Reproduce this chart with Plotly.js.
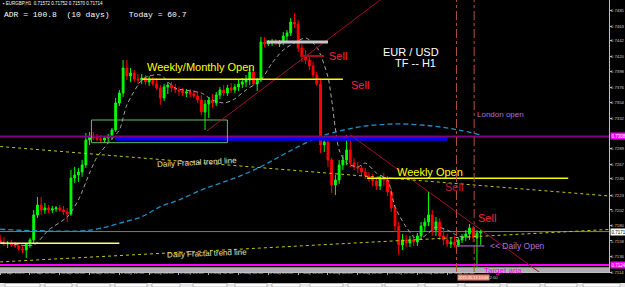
<!DOCTYPE html>
<html><head><meta charset="utf-8">
<script src="https://cdn.plot.ly/plotly-3.0.1.min.js"></script>
<style>html,body{margin:0;padding:0;background:#000;overflow:hidden}#chart{width:625px;height:287px}</style>
</head><body><div id="chart"></div>
<script>
const open = [0.71595,0.71566,0.71538,0.71552,0.71524,0.71510,0.71467,0.71453,0.71538,0.71595,
0.71950,0.72091,0.72020,0.72049,0.72020,0.72035,0.72049,0.72020,0.71992,0.71964,
0.72474,0.72517,0.72560,0.72659,0.73014,0.73070,0.73042,0.73028,0.73014,0.73042,
0.73070,0.73156,0.73539,0.73680,0.74035,0.73922,0.73964,0.73879,0.73865,0.73893,
0.73837,0.73865,0.73808,0.73751,0.73610,0.73766,0.73794,0.73751,0.73723,0.73709,
0.73680,0.73695,0.73666,0.73638,0.73581,0.73411,0.73524,0.73581,0.73539,0.73652,
0.73723,0.73680,0.73751,0.73723,0.73766,0.73808,0.73837,0.73865,0.73978,0.73808,
0.73865,0.74404,0.74376,0.74390,0.74404,0.74376,0.74404,0.74489,0.74532,0.74688,
0.74659,0.74319,0.74205,0.74149,0.74064,0.73936,0.73808,0.72943,0.72985,0.72730,
0.72375,0.72446,0.72659,0.72730,0.72872,0.72687,0.72631,0.72616,0.72560,0.72503,
0.72474,0.72432,0.72361,0.72474,0.72446,0.72276,0.72049,0.71793,0.71524,0.71595,
0.71552,0.71595,0.71566,0.71652,0.71793,0.71850,0.71950,0.71737,0.71850,0.71652,
0.71595,0.71538,0.71566,0.71524,0.71595,0.71637,0.71680,0.71765,0.71623,0.71694];
const high = [0.71666,0.71637,0.71581,0.71595,0.71566,0.71552,0.71524,0.71538,0.71623,0.72020,
0.72205,0.72205,0.72120,0.72091,0.72077,0.72077,0.72091,0.72077,0.72049,0.72588,
0.72631,0.72616,0.72730,0.73113,0.73127,0.73127,0.73099,0.73085,0.73070,0.73099,
0.73184,0.73610,0.73723,0.74149,0.74149,0.74035,0.74007,0.73950,0.73950,0.73936,
0.73922,0.73907,0.73893,0.73794,0.73808,0.73837,0.73837,0.73808,0.73766,0.73751,
0.73737,0.73737,0.73723,0.73695,0.73652,0.73581,0.73624,0.73666,0.73695,0.73766,
0.73794,0.73794,0.73822,0.73808,0.73865,0.73893,0.73936,0.74035,0.74064,0.73893,
0.74475,0.74475,0.74432,0.74447,0.74447,0.74432,0.74546,0.74574,0.74745,0.74816,
0.74716,0.74376,0.74291,0.74220,0.74120,0.73978,0.73865,0.73056,0.73042,0.72758,
0.72517,0.72730,0.72801,0.73085,0.73014,0.72758,0.72701,0.72659,0.72616,0.72560,
0.72531,0.72489,0.72503,0.72545,0.72503,0.72333,0.72091,0.71850,0.71680,0.71666,
0.71652,0.71666,0.71694,0.71850,0.71907,0.72276,0.72020,0.71921,0.71907,0.71765,
0.71680,0.71623,0.71652,0.71623,0.71680,0.71737,0.71822,0.71793,0.71737,0.71751];
const low = [0.71538,0.71510,0.71481,0.71495,0.71481,0.71439,0.71410,0.71339,0.71481,0.71552,
0.71907,0.71950,0.71964,0.71978,0.71978,0.71992,0.71992,0.71950,0.71850,0.71935,
0.72404,0.72418,0.72489,0.72616,0.72943,0.73014,0.72999,0.72971,0.72971,0.72985,
0.73014,0.73127,0.73496,0.73624,0.73865,0.73837,0.73837,0.73808,0.73808,0.73794,
0.73780,0.73780,0.73723,0.73510,0.73567,0.73666,0.73695,0.73680,0.73638,0.73638,
0.73624,0.73624,0.73610,0.73539,0.73368,0.73156,0.73326,0.73468,0.73496,0.73595,
0.73638,0.73638,0.73680,0.73680,0.73709,0.73751,0.73766,0.73794,0.73780,0.73709,
0.73837,0.74333,0.74347,0.74347,0.74362,0.74333,0.74362,0.74404,0.74489,0.74603,
0.74262,0.74120,0.74092,0.74007,0.73893,0.73780,0.72829,0.72843,0.72631,0.72262,
0.72233,0.72389,0.72588,0.72659,0.72631,0.72588,0.72545,0.72503,0.72460,0.72418,
0.72361,0.72304,0.72304,0.72361,0.72219,0.71992,0.71708,0.71382,0.71453,0.71495,
0.71495,0.71510,0.71510,0.71595,0.71708,0.71793,0.71652,0.71652,0.71595,0.71524,
0.71495,0.71481,0.71495,0.71495,0.71552,0.71581,0.71595,0.71566,0.71212,0.71524];
const close = [0.71566,0.71538,0.71552,0.71524,0.71510,0.71467,0.71453,0.71538,0.71595,0.71950,
0.72091,0.72020,0.72049,0.72020,0.72035,0.72049,0.72020,0.71992,0.71964,0.72474,
0.72517,0.72560,0.72659,0.73014,0.73070,0.73042,0.73028,0.73014,0.73042,0.73070,
0.73156,0.73539,0.73680,0.74035,0.73922,0.73964,0.73879,0.73865,0.73893,0.73837,
0.73865,0.73808,0.73751,0.73610,0.73766,0.73794,0.73751,0.73723,0.73709,0.73680,
0.73695,0.73666,0.73638,0.73581,0.73411,0.73524,0.73581,0.73539,0.73652,0.73723,
0.73680,0.73751,0.73723,0.73766,0.73808,0.73837,0.73865,0.73978,0.73808,0.73865,
0.74404,0.74376,0.74390,0.74404,0.74376,0.74404,0.74489,0.74532,0.74688,0.74659,
0.74319,0.74205,0.74149,0.74064,0.73936,0.73808,0.72943,0.72985,0.72730,0.72375,
0.72446,0.72659,0.72730,0.72872,0.72687,0.72631,0.72616,0.72560,0.72503,0.72474,
0.72432,0.72361,0.72474,0.72446,0.72276,0.72049,0.71793,0.71524,0.71595,0.71552,
0.71595,0.71566,0.71652,0.71793,0.71850,0.71950,0.71737,0.71850,0.71652,0.71595,
0.71538,0.71566,0.71524,0.71595,0.71637,0.71680,0.71765,0.71623,0.71694,0.71714];

// time axis (hours of trading since 28 Apr 20:00)
const tickHours = [0,16,32,48,64,80,96,112,128,144,160,176,192,208,224,240];
const tickLabels = ['28 Apr 2015','29 Apr 12:00','30 Apr 04:00','30 Apr 20:00','1 May 12:00','4 May 04:00','4 May 20:00','5 May 12:00','6 May 04:00','6 May 20:00','7 May 12:00','8 May 04:00','8 May 20:00','11 May 12:00','12 May 04:00','12 May 20:00'];
const priceTicks = [0.7485,0.7463,0.7442,0.7420,0.7398,0.7376,0.7354,0.7332,0.7289,0.7267,0.7246,0.7223,0.7202,0.7180,0.7158,0.7136,0.7114];

// moving averages
const slowMaHours = [0,18,46,54,64,76,86,96,108,118,128,140,150,160,170,178,196,214,232,246,258];
const slowMaPrices = [0.71747,0.71727,0.71727,0.71761,0.71832,0.71925,0.72067,0.72162,0.72304,0.72399,0.72493,0.72635,0.72777,0.72919,0.73042,0.73113,0.73212,0.73241,0.73212,0.73156,0.73085];
const fastMaHours = [0,18,26,36,42,48,52,58,64,68,76,80,86,94,108,114,120,125,132,140,146,152,158,164,170,176,178,182,186,192,196,202,208,212,218,224,230,234,240,246,252,258];
const fastMaPrices = [0.71566,0.71524,0.71737,0.71921,0.72162,0.72545,0.72772,0.72971,0.73156,0.73510,0.73865,0.73922,0.73936,0.73751,0.73680,0.73581,0.73539,0.73581,0.73723,0.73865,0.74106,0.74291,0.74390,0.74461,0.74333,0.73907,0.73581,0.72872,0.72687,0.72631,0.72687,0.72545,0.72446,0.72063,0.71779,0.71595,0.71694,0.71779,0.71737,0.71652,0.71637,0.71666];

// horizontal level segments: [fromHour, toHour, price]
const levelFrom  = [76, 197, 0, 143, 161, 245];
const levelTo    = [184, 305, 64, 176, 174, 260];
const levelPrice = [0.73875, 0.72470, 0.71548, 0.74404, 0.74205, 0.71510];
// trend lines
const trendStartHour  = [111, 188, 0, 0];
const trendStartPrice = [0.73142, 0.73085, 0.72921, 0.71283];
const trendEndHour    = [204, 290, 327, 327];
const trendEndPrice   = [0.75000, 0.71127, 0.72219, 0.71744];
// full width levels
const purpleLevel = 0.73063, targetLevel = 0.7124, bidLevel = 0.71714;
// zones [fromHour,toHour,lowPrice,highPrice]
const blueZone = [62, 240, 0.73004, 0.73063];
const greenBox = [49, 122, 0.72975, 0.73297];
// session lines (hours)
const sessionHours = [245, 254.5];

// ---- DRAWING ----
const hours = open.map((_, i) => i * 2);
const W = 609, H = 272;
const px = x => x / W, py = y => 1 - y / H;
const FONT = 'Liberation Sans, Arial, sans-serif';

const traces = [
  {type:'candlestick', x:hours, open, high, low, close, whiskerwidth:0, hoverinfo:'skip',
   increasing:{line:{color:'#00ff00', width:1}, fillcolor:'#00ff00'},
   decreasing:{line:{color:'#ff0000', width:1}, fillcolor:'#ff0000'}},
  {type:'scatter', mode:'lines', x:slowMaHours, y:slowMaPrices, hoverinfo:'skip',
   line:{color:'#1f8fc4', width:1.3, dash:'5px,3px', shape:'spline', smoothing:1}},
  {type:'scatter', mode:'lines', x:fastMaHours, y:fastMaPrices, hoverinfo:'skip',
   line:{color:'#a8a8a8', width:1, dash:'4px,3px', shape:'spline', smoothing:0.7}}
];

const levelColors = ['#ffff00','#ffff00','#ffff80','#c8c8c8','#a01020','#b060d0'];
const levelWidths = [1.5,1.5,1.5,3,2,1.2];
const shapes = [];
shapes.push({type:'rect', xref:'paper', yref:'y', x0:0, x1:1, y0:0.7114, y1:0.71207, fillcolor:'#b0b0b0', line:{width:0}, layer:'above'});
shapes.push({type:'rect', xref:'x', yref:'y', x0:blueZone[0], x1:blueZone[1], y0:blueZone[2], y1:blueZone[3], fillcolor:'#0000ff', line:{width:0}, layer:'above'});
shapes.push({type:'line', xref:'paper', yref:'y', x0:0, x1:1, y0:purpleLevel, y1:purpleLevel, line:{color:'#800080', width:2}, layer:'above'});
shapes.push({type:'line', xref:'paper', yref:'y', x0:0, x1:1, y0:targetLevel, y1:targetLevel, line:{color:'#ff00ff', width:2}, layer:'above'});
shapes.push({type:'line', xref:'paper', yref:'y', x0:0, x1:1, y0:bidLevel, y1:bidLevel, line:{color:'#7a7a7a', width:1}, layer:'below'});
shapes.push({type:'rect', xref:'x', yref:'y', x0:greenBox[0], x1:greenBox[1], y0:greenBox[2], y1:greenBox[3], line:{color:'#66bb66', width:1}, layer:'above'});
const trendColors = ['#a01030','#a01030','#c8c800','#c8c800'];
const trendDash = ['solid','solid','dot','dot'];
trendStartHour.forEach((h, i) => shapes.push({type:'line', xref:'x', yref:'y', x0:h, y0:trendStartPrice[i], x1:trendEndHour[i], y1:trendEndPrice[i], line:{color:trendColors[i], width:1, dash:trendDash[i]}, layer:'above'}));
levelFrom.forEach((h, i) => shapes.push({type:'line', xref:'x', yref:'y', x0:h, x1:levelTo[i], y0:levelPrice[i], y1:levelPrice[i], line:{color:levelColors[i], width:levelWidths[i]}, layer:'above'}));
sessionHours.forEach(h => shapes.push({type:'line', xref:'x', yref:'paper', x0:h, x1:h, y0:0, y1:1, line:{color:'#b8503c', width:1, dash:'dashdot'}, layer:'above'}));
// bottom tab strip
const tabs = [[5,40],[45,72],[77,110],[115,147],[152,180],[193,227],[235,267],[272,300],[310,343],[348,382],[385,418],[425,458],[465,500],[507,540],[545,577],[583,620]];
shapes.push({type:'rect', xref:'paper', yref:'paper', x0:0, x1:625/W, y0:py(287), y1:py(283), fillcolor:'#e8e8e8', line:{width:0}});
tabs.forEach(t => shapes.push({type:'rect', xref:'paper', yref:'paper', x0:px(t[0]), x1:px(t[1]), y0:py(287), y1:py(283.5), fillcolor:'#ffffff', line:{color:'#909090', width:0.6}}));

function txt(x, y, s, color, size, extra) {
  return Object.assign({xref:'paper', yref:'paper', x:px(x), y:py(y), text:s, showarrow:false,
    xanchor:'left', yanchor:'middle', font:{family:FONT, size:size, color:color}}, extra || {});
}
const annotations = [
  txt(1, 3.5, '\u25aa EURGBP,H1\u00a0\u00a00.71572 0.71752 0.71570 0.71714', '#ffffff', 4.5),
  Object.assign(txt(2, 14, 'ADR = 100.8\u00a0\u00a0(10 days)\u00a0\u00a0\u00a0\u00a0Today = 60.7', '#ffffff', 8), {font:{family:'Liberation Mono, Courier New, monospace', size:8, color:'#ffffff'}}),
  txt(145, 67, 'Weekly/Monthly Open', '#ffff00', 11),
  txt(327, 56, 'Sell', '#ff1f3f', 11),
  txt(349, 85, 'Sell', '#ff1f3f', 11),
  txt(381, 52, 'EUR / USD', '#ffffff', 11),
  txt(393, 63.5, 'TF -- H1', '#ffffff', 11),
  txt(475, 114, 'London open', '#b070d8', 8),
  txt(395, 171.5, 'Weekly Open', '#ffff00', 11),
  txt(443, 187, 'Sell', '#c81c3c', 11),
  txt(476, 217.5, 'Sell', '#ff1f3f', 11),
  txt(488, 246, '&lt;&lt; Daily Open', '#b070d8', 8.5),
  txt(482, 270, 'Target aria', '#ff00ff', 8),
  txt(155, 162, 'Daily Fractal trend line', '#e8e0b0', 8, {textangle:-3}),
  txt(165, 253.5, 'Daily Fractal trend line', '#e8e0b0', 8, {textangle:-2}),
  txt(457, 277.5, '2015.05.13 10:00', '#ffffff', 3.8, {bgcolor:'#f08070', borderpad:0.5}),
  txt(485, 277.5, '12:00', '#c8c8c8', 4.3),
  {xref:'paper', yref:'y', x:1, xshift:1, y:purpleLevel, text:'0.7308', showarrow:false, xanchor:'left', yanchor:'middle', bgcolor:'#ff00ff', borderpad:0.5, font:{family:FONT, size:4.5, color:'#ffffff'}},
  {xref:'paper', yref:'y', x:1, xshift:1, y:targetLevel, text:'0.7124', showarrow:false, xanchor:'left', yanchor:'middle', bgcolor:'#ff00ff', borderpad:0.5, font:{family:FONT, size:4.5, color:'#ffffff'}},
  {xref:'paper', yref:'y', x:1, xshift:1, y:bidLevel, text:'0.7171', showarrow:false, xanchor:'left', yanchor:'middle', bgcolor:'#ffffff', borderpad:0.5, font:{family:FONT, size:4.5, color:'#000000'}}
];

const layout = {
  width:625, height:287, margin:{l:0, r:16, t:0, b:15, pad:0},
  paper_bgcolor:'#000000', plot_bgcolor:'#000000', showlegend:false,
  font:{family:FONT, color:'#c8c8c8', size:5},
  xaxis:{range:[-0.1, 326.9], rangeslider:{visible:false}, showgrid:false, zeroline:false,
    tickmode:'array', tickvals:tickHours, ticktext:tickLabels, tickangle:0, ticks:'outside', ticklen:2, tickcolor:'#b0b0b0',
    ticklabelposition:'outside right', ticklabelstandoff:-4, tickfont:{family:FONT, size:4.3, color:'#c8c8c8'},
    showline:true, linecolor:'#c0c0c0', linewidth:1, fixedrange:true},
  yaxis:{side:'right', range:[0.7114, 0.75], showgrid:false, zeroline:false,
    tickmode:'array', tickvals:priceTicks, ticktext:priceTicks.map(v => v.toFixed(4)),
    ticks:'outside', ticklen:2, ticklabelstandoff:-2, tickcolor:'#b0b0b0', tickfont:{family:FONT, size:4.3, color:'#c8c8c8'},
    showline:true, linecolor:'#c0c0c0', linewidth:1, fixedrange:true},
  shapes, annotations
};
Plotly.newPlot('chart', traces, layout, {staticPlot:true, displayModeBar:false});
</script></body></html>
